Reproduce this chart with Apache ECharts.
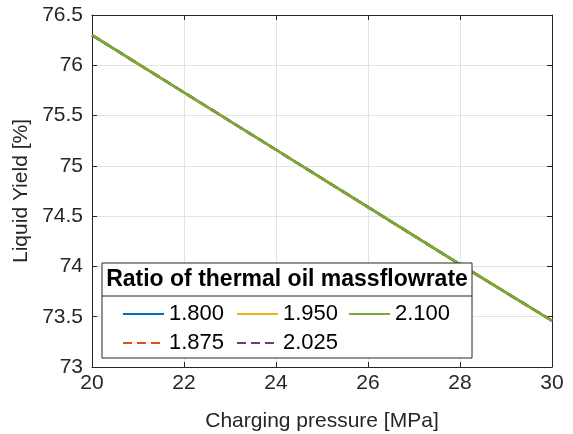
<!DOCTYPE html>
<html>
<head>
<meta charset="utf-8">
<script src="https://cdn.jsdelivr.net/npm/echarts@6/dist/echarts.min.js"></script>
<style>
  html, body { margin: 0; padding: 0; background: #fff; }
  #chart { width: 573px; height: 434px; }
</style>
</head>
<body>
<div id="chart"></div>
<script>
// Charging pressure [MPa]
const pressure = [20, 22, 24, 26, 28, 30];
// Liquid yield [%] per ratio of thermal oil massflowrate
const ratioNames = ['1.800', '1.875', '1.950', '2.025', '2.100'];
const yield1800 = [76.30, 75.73, 75.16, 74.59, 74.02, 73.46];
const yield1875 = [76.30, 75.73, 75.16, 74.59, 74.02, 73.46];
const yield1950 = [76.30, 75.73, 75.16, 74.59, 74.02, 73.46];
const yield2025 = [76.30, 75.73, 75.16, 74.59, 74.02, 73.46];
const yield2100 = [76.30, 75.73, 75.16, 74.59, 74.02, 73.46];
const xTicks = [20, 22, 24, 26, 28, 30];
const yTicks = [73, 73.5, 74, 74.5, 75, 75.5, 76, 76.5];

const seriesValues = [yield1800, yield1875, yield1950, yield2025, yield2100];
const seriesColors = ['#0072BD', '#D95319', '#EDB120', '#7E2F8E', '#77AC30'];
const seriesDashed = [false, true, false, true, false];

const font = 'Liberation Sans, Arial, sans-serif';
const axisColor = '#262626';

document.addEventListener('DOMContentLoaded', function () {
    const chart = echarts.init(document.getElementById('chart'));

    const series = ratioNames.map((name, i) => ({
        name: name,
        type: 'line',
        symbol: 'none',
        color: seriesColors[i],
        lineStyle: {
            width: 2.5,
            color: seriesColors[i],
            type: seriesDashed[i] ? [9, 5] : 'solid'
        },
        data: pressure.map((p, k) => [p, seriesValues[i][k]])
    }));

    // legend layout: MATLAB fills columns first (3 columns)
    const legendPos = [
        { name: '1.800', left: 122, top: 303 },
        { name: '1.875', left: 122, top: 332 },
        { name: '1.950', left: 236, top: 303 },
        { name: '2.025', left: 236, top: 332 },
        { name: '2.100', left: 348, top: 303 }
    ];
    const legends = legendPos.map(l => ({
        data: [l.name],
        left: l.left,
        top: l.top,
        z: 20,
        orient: 'horizontal',
        padding: 0,
        itemWidth: 41,
        itemHeight: 20,
        selectedMode: false,
        itemStyle: { opacity: 0 },
        textStyle: { fontFamily: font, fontSize: 22, color: '#000' }
    }));

    const option = {
        animation: false,
        backgroundColor: '#fff',
        grid: { left: 92, right: 21, top: 15, bottom: 67, outerBoundsMode: 'none' },
        xAxis: [{
            type: 'value',
            min: 20, max: 30, interval: 2,
            name: 'Charging pressure [MPa]',
            nameLocation: 'middle',
            nameGap: 44,
            nameTextStyle: { fontFamily: font, fontSize: 21, color: axisColor },
            axisLine: { show: true, lineStyle: { color: axisColor, width: 1 } },
            axisTick: { show: true, inside: true, length: 5, lineStyle: { color: axisColor } },
            axisLabel: {
                fontFamily: font, fontSize: 21, color: axisColor, margin: 6,
                formatter: v => xTicks.includes(v) ? String(v) : ''
            },
            splitLine: { show: true, lineStyle: { color: '#e3e3e3', width: 1 } }
        }, {
            type: 'value',
            position: 'top',
            min: 20, max: 30, interval: 2,
            axisLine: { show: true, lineStyle: { color: axisColor, width: 1 } },
            axisTick: { show: true, inside: true, length: 5, lineStyle: { color: axisColor } },
            axisLabel: { show: false },
            splitLine: { show: false }
        }],
        yAxis: [{
            type: 'value',
            min: 73, max: 76.5, interval: 0.5,
            name: 'Liquid Yield [%]',
            nameLocation: 'middle',
            nameGap: 54,
            nameTextStyle: { fontFamily: font, fontSize: 21, color: axisColor },
            axisLine: { show: true, lineStyle: { color: axisColor, width: 1 } },
            axisTick: { show: true, inside: true, length: 5, lineStyle: { color: axisColor } },
            axisLabel: {
                fontFamily: font, fontSize: 21, color: axisColor, margin: 9,
                formatter: v => yTicks.includes(v) ? String(v) : ''
            },
            splitLine: { show: true, lineStyle: { color: '#e3e3e3', width: 1 } }
        }, {
            type: 'value',
            position: 'right',
            min: 73, max: 76.5, interval: 0.5,
            axisLine: { show: true, lineStyle: { color: axisColor, width: 1 } },
            axisTick: { show: true, inside: true, length: 5, lineStyle: { color: axisColor } },
            axisLabel: { show: false },
            splitLine: { show: false }
        }],
        legend: legends,
        graphic: [{
            type: 'rect',
            shape: { x: 102, y: 263, width: 370, height: 95 },
            style: { fill: '#fff', stroke: '#262626', lineWidth: 1 },
            z: 5
        }, {
            type: 'line',
            shape: { x1: 102, y1: 296, x2: 472, y2: 296 },
            style: { stroke: '#262626', lineWidth: 1 },
            z: 6
        }, {
            type: 'text',
            x: 287, y: 280,
            style: {
                text: 'Ratio of thermal oil massflowrate',
                fontFamily: font, fontSize: 23, fontWeight: 'bold',
                fill: '#000', align: 'center', verticalAlign: 'middle'
            },
            z: 6
        }],
        series: series
    };
    chart.setOption(option);
});
</script>
</body>
</html>
